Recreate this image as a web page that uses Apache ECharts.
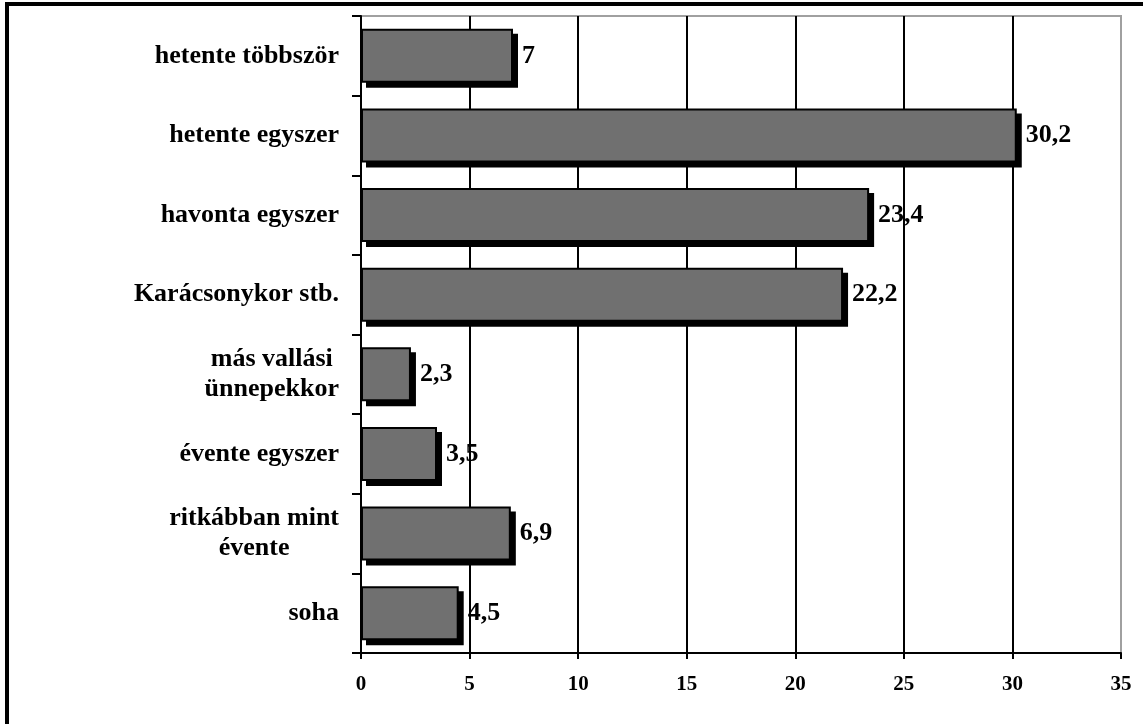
<!DOCTYPE html>
<html>
<head>
<meta charset="utf-8">
<script src="https://cdn.jsdelivr.net/npm/echarts@6/dist/echarts.min.js"></script>
<style>
  html, body { margin: 0; padding: 0; background: #fff; }
  #chart { width: 1143px; height: 724px; }
</style>
</head>
<body>
<div id="chart"></div>
<script>
// categories top to bottom
const categories = [
  'hetente többször',
  'hetente egyszer',
  'havonta egyszer',
  'Karácsonykor stb.',
  'más vallási\nünnepekkor',
  'évente egyszer',
  'ritkábban mint\névente',
  'soha'
];
const values = [7, 30.2, 23.4, 22.2, 2.3, 3.5, 6.9, 4.5];
const xTicks = [0, 5, 10, 15, 20, 25, 30, 35];

const fontFamily = '"Liberation Serif", "Times New Roman", serif';
const barHeight = 54;
const shadowOffset = 5;
const chart = echarts.init(document.getElementById('chart'));

// multi-line labels are centred line by line, block aligned to the axis
const labelFormatter = (v) => v.split('\n').map(s => '{c|' + s + '}').join('\n');

// black drop shadow behind each bar
const renderShadow = (params, api) => {
  const start = api.coord([0, api.value(1)]);
  const end = api.coord([api.value(0), api.value(1)]);
  return {
    type: 'rect',
    shape: {
      x: start[0] + shadowOffset,
      y: start[1] - barHeight / 2 + shadowOffset,
      width: end[0] - start[0],
      height: barHeight
    },
    style: { fill: '#000' }
  };
};

const option = {
  animation: false,
  backgroundColor: '#fff',
  grid: {
    left: 361,
    right: 22,
    top: 16,
    bottom: 71,
    show: true,
    borderColor: '#a0a0a0',
    borderWidth: 2
  },
  graphic: [
    {
      type: 'rect',
      shape: { x: 7, y: 4, width: 1250, height: 800 },
      style: { fill: null, stroke: '#000', lineWidth: 4 },
      z: 10
    }
  ],
  xAxis: {
    type: 'value',
    min: xTicks[0],
    max: xTicks[xTicks.length - 1],
    interval: 5,
    axisLine: { show: true, lineStyle: { color: '#000', width: 2 } },
    axisTick: { show: true, length: 6, lineStyle: { color: '#000', width: 2 } },
    axisLabel: {
      color: '#000',
      fontFamily: fontFamily,
      fontWeight: 'bold',
      fontSize: 21,
      margin: 21
    },
    splitLine: { show: true, showMinLine: false, showMaxLine: false, lineStyle: { color: '#000', width: 2 } }
  },
  yAxis: {
    type: 'category',
    inverse: true,
    data: categories,
    axisLine: { show: true, lineStyle: { color: '#000', width: 2 } },
    axisTick: { show: true, length: 9, lineStyle: { color: '#000', width: 2 } },
    axisLabel: {
      color: '#000',
      margin: 22,
      formatter: labelFormatter,
      rich: {
        c: {
          align: 'center',
          fontFamily: fontFamily,
          fontWeight: 'bold',
          fontSize: 26,
          lineHeight: 30,
          color: '#000'
        }
      }
    }
  },
  series: [
    {
      type: 'custom',
      renderItem: renderShadow,
      data: values.map((v, i) => [v, i]),
      encode: { x: 0, y: 1 },
      z: 1
    },
    {
      type: 'bar',
      data: values,
      barWidth: barHeight,
      z: 2,
      itemStyle: {
        color: '#707070',
        borderColor: '#000',
        borderWidth: 2
      },
      label: {
        show: true,
        position: 'right',
        distance: 9,
        color: '#000',
        fontFamily: fontFamily,
        fontWeight: 'bold',
        fontSize: 26,
        formatter: (p) => String(p.value).replace('.', ',')
      }
    }
  ]
};
chart.setOption(option);
</script>
</body>
</html>
